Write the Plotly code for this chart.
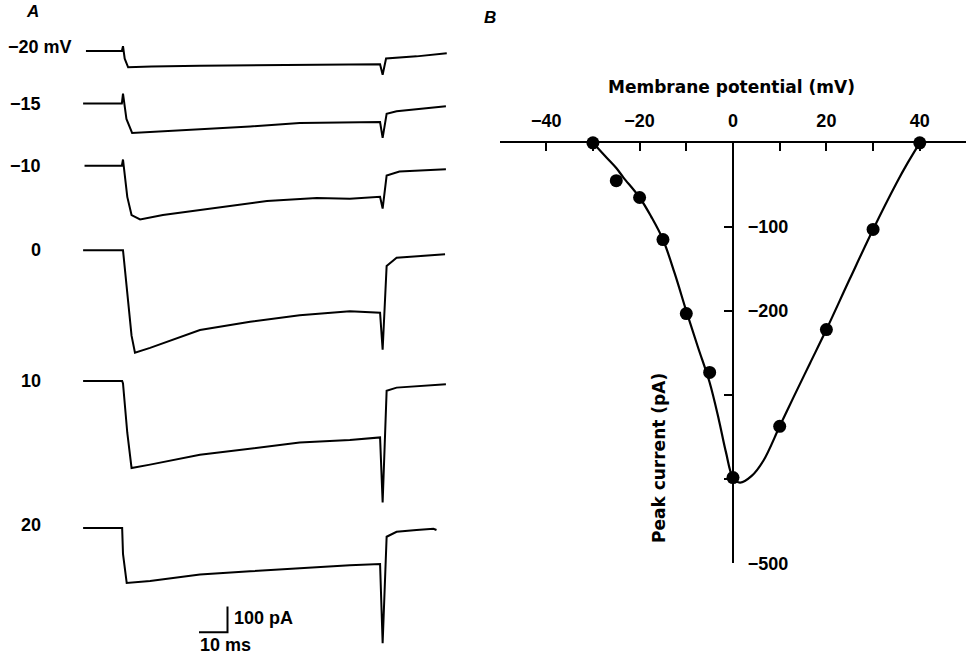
import plotly.graph_objects as go

# ---------------- Panel A data: current traces (time ms rel. to step onset, current pA rel. to baseline)
trace_labels = ["−20 mV", "−15", "−10", "0", "10", "20"]

t_m20 = [-13, -0.4, 0, 0.6, 1.8, 10, 27, 62, 90.2, 91.1, 92.3, 103, 113.6]
i_m20 = [0, 0, 18, -30, -63, -60, -57, -55, -51, -92, -29, -21, -9]

t_m15 = [-14, -0.4, 0, 1.2, 3.2, 14, 27, 44.6, 62, 90.2, 91.1, 92.5, 96, 103, 113.3]
i_m15 = [0, 0, 38, -60, -114, -108, -101, -89, -76, -72, -133, -40, -30, -23, -11]

t_m10 = [-13.5, -0.4, 0, 1.5, 3, 6, 14, 27, 38.6, 50.5, 68, 79.6, 90.2, 91.1, 92.5, 97, 113.3]
i_m10 = [0, 0, 24, -120, -190, -207, -190, -171, -156, -136, -124, -127, -120, -165, -38, -22, -13]

t_0 = [-14, -0.3, 0, 3, 4.2, 9.5, 27, 44.6, 62, 79.6, 90.2, 91.1, 92.5, 96, 103, 113]
i_0 = [0, 0, 0, -330, -396, -377, -308, -276, -251, -236, -241, -384, -61, -29, -23, -16]

t_10 = [-14, -0.3, 0, 1.5, 3, 9.5, 27, 44.6, 62, 79.6, 90.2, 91.1, 92.5, 96, 113.3]
i_10 = [0, 0, -10, -200, -336, -323, -285, -260, -238, -228, -218, -469, -38, -26, -13]

t_20 = [-14, -0.3, 0, 1.3, 9.5, 27, 44.6, 62, 79.6, 90.2, 91.1, 92.5, 96, 103, 108.9, 110]
i_20 = [0, 0, -100, -212, -205, -180, -167, -155, -144, -139, -445, -34, -15, -8, -3, -8]

scale_time_ms = 10
scale_current_pA = 100

# ---------------- Panel B data: I-V relation
v_points = [-30, -25, -20, -15, -10, -5, 0, 10, 20, 30, 40]
i_points = [0, -45, -65, -115, -203, -273, -398, -337, -222, -103, 0]

v_curve = [-30, -27, -25, -23.5, -20, -17.5, -15, -12.5, -10, -7.5, -5, -3, -1.5, 0, 1.5, 4, 6.5,
           10, 13, 16.5, 20, 25, 30, 35, 37.5, 40]
i_curve = [0, -18, -30, -41, -65, -88, -115, -155, -200, -243, -285, -330, -368, -398, -404, -396, -378,
           -337, -302, -262, -222, -162, -103, -48, -23, 0]

x_tick_vals = [-50, -40, -30, -20, -10, 0, 10, 20, 30, 40, 50]
x_tick_text = ["", "−40", "", "−20", "", "0", "", "20", "", "40", ""]
y_tick_vals = [-100, -200, -300, -400, -500]
y_tick_text = ["−100", "−200", "", "", "−500"]

# ---------------- layout geometry (screen pixels; body margin removed by post_script)
W, H = 966, 665
PX_PER_MS = 2.85
PA_PER_PX = 3.8
ONSET_PX = 123
baseline_px = [51.7, 105, 168.3, 254, 386.7, 536]
label_px = [(6, 48, "left"), (43, 106, "right"), (43, 169, "right"),
            (43, 254, "right"), (43, 387, "right"), (43, 533, "right")]

NUM_FONT = dict(family="Liberation Sans, Arial, sans-serif", size=18, color="black", weight="bold")
WORD_FONT = dict(family="DejaVu Sans, sans-serif", size=17, color="black", weight="bold")
PANEL_FONT = dict(family="Liberation Sans, Arial", size=17, color="black", weight="bold")


def px_x(p):
    return p / W


def px_y(p):
    return 1 - p / H


fig = go.Figure()

series = [(t_m20, i_m20), (t_m15, i_m15), (t_m10, i_m10), (t_0, i_0), (t_10, i_10), (t_20, i_20)]
for (tt, ii), base in zip(series, baseline_px):
    off = -base * PA_PER_PX
    fig.add_trace(go.Scatter(x=tt, y=[v + off for v in ii], mode="lines",
                             line=dict(color="black", width=2), xaxis="x", yaxis="y",
                             showlegend=False, hoverinfo="skip"))

# scale bar
sb_t0 = (199 - ONSET_PX) / PX_PER_MS
sb_y0 = -642 * PA_PER_PX
fig.add_trace(go.Scatter(x=[sb_t0, sb_t0 + scale_time_ms, sb_t0 + scale_time_ms],
                         y=[sb_y0, sb_y0, sb_y0 + scale_current_pA], mode="lines",
                         line=dict(color="black", width=2), xaxis="x", yaxis="y",
                         showlegend=False, hoverinfo="skip"))

# Panel B
fig.add_trace(go.Scatter(x=v_curve, y=i_curve, mode="lines", line=dict(color="black", width=2.2, shape="spline"),
                         xaxis="x2", yaxis="y2", showlegend=False, cliponaxis=False, hoverinfo="skip"))
fig.add_trace(go.Scatter(x=v_points, y=i_points, mode="markers", marker=dict(color="black", size=13),
                         xaxis="x2", yaxis="y2", showlegend=False, cliponaxis=False))

annotations = []
for (lx, ly, anc), txt in zip(label_px, trace_labels):
    annotations.append(dict(x=px_x(lx), y=px_y(ly), xref="paper", yref="paper", text=txt,
                            xanchor=anc, yanchor="middle", showarrow=False, font=NUM_FONT))
annotations += [
    dict(x=px_x(232), y=px_y(627), xref="paper", yref="paper", text="100 pA", xanchor="left",
         yanchor="middle", showarrow=False, font=NUM_FONT),
    dict(x=px_x(198), y=px_y(655), xref="paper", yref="paper", text="10 ms", xanchor="left",
         yanchor="middle", showarrow=False, font=NUM_FONT),
    dict(x=px_x(24), y=px_y(12), xref="paper", yref="paper", text="<i>A</i>", xanchor="left",
         yanchor="middle", showarrow=False, font=PANEL_FONT),
    dict(x=px_x(482), y=px_y(18), xref="paper", yref="paper", text="<i>B</i>", xanchor="left",
         yanchor="middle", showarrow=False, font=PANEL_FONT),
    dict(x=px_x(731), y=px_y(88), xref="paper", yref="paper", text="Membrane potential (mV)",
         xanchor="center", yanchor="middle", showarrow=False, font=WORD_FONT),
    dict(x=px_x(659), y=px_y(465), xref="paper", yref="paper", text="Peak current (pA)", textangle=-90,
         xanchor="center", yanchor="middle", showarrow=False, font=WORD_FONT),
]

fig.update_layout(
    width=W, height=H, autosize=False,
    margin=dict(l=0, r=0, t=0, b=0),
    paper_bgcolor="white", plot_bgcolor="rgba(0,0,0,0)",
    font=dict(family="Liberation Sans, Arial, sans-serif", color="black"),
    xaxis=dict(domain=[0, px_x(483)], range=[-ONSET_PX / PX_PER_MS, (483 - ONSET_PX) / PX_PER_MS],
               visible=False, fixedrange=True),
    yaxis=dict(domain=[0, 1], range=[-H * PA_PER_PX, 0], visible=False, fixedrange=True),
    xaxis2=dict(domain=[px_x(500), 1], range=[-49.9, 49.9], anchor="y2", side="top",
                showline=True, linecolor="black", linewidth=2.2, showgrid=False, zeroline=False,
                ticks="inside", ticklen=8, tickwidth=2.2, tickcolor="black",
                tickvals=x_tick_vals, ticktext=x_tick_text, tickfont=NUM_FONT, ticklabelstandoff=6),
    yaxis2=dict(domain=[px_y(572), px_y(145)], range=[-500, 0], anchor="free", position=px_x(733),
                side="right",
                showline=True, linecolor="black", linewidth=2.2, showgrid=False, zeroline=False,
                ticks="inside", ticklen=8, tickwidth=2.2, tickcolor="black",
                tickvals=y_tick_vals, ticktext=y_tick_text, tickfont=NUM_FONT,
                ticklabelstandoff=10),
    annotations=annotations,
)

fig.write_html("out.html", config={"displayModeBar": False, "staticPlot": True},
               post_script="document.body.style.margin='0px';document.body.style.overflow='hidden';")
